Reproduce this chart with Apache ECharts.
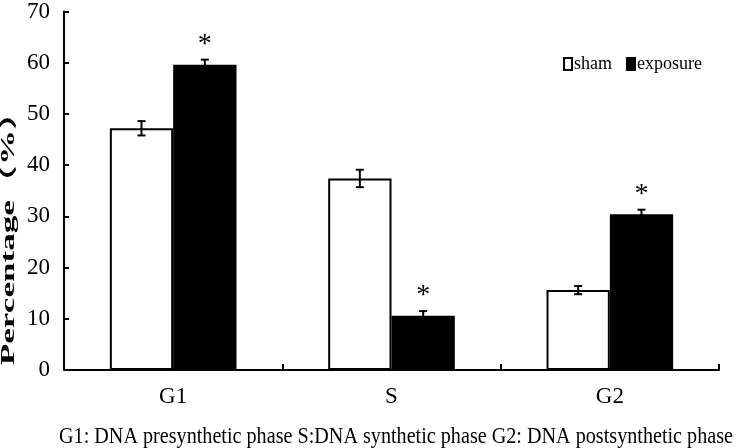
<!DOCTYPE html>
<html>
<head>
<meta charset="utf-8">
<script src="https://cdn.jsdelivr.net/npm/echarts@6/dist/echarts.min.js"></script>
<style>
  html, body { margin: 0; padding: 0; background: #fff; }
  #chart { width: 742px; height: 448px; }
</style>
</head>
<body>
<div id="chart"></div>
<script>
// data
const categories = ['G1', 'S', 'G2']
const sham = [47.2, 37.4, 15.6]
const shamErr = [1.4, 1.7, 0.8]
const exposure = [59.6, 10.6, 30.4]
const exposureErr = [1.0, 0.9, 0.9]
const yTicks = [0, 10, 20, 30, 40, 50, 60, 70]

const caption = 'G1: DNA presynthetic phase S:DNA synthetic phase G2: DNA postsynthetic phase'
const yTitle = 'Percentage（%）'

const serif = '"Liberation Serif", "Noto Sans CJK SC", serif'
const barFrac = 0.29

// stretch a text so it covers a given width
function fitScale(text, font, width) {
  const ctx = document.createElement('canvas').getContext('2d')
  ctx.font = font
  return width / ctx.measureText(text).width
}

function errorSeries(name, values, errs, side) {
  return {
    name: name + ' err',
    type: 'custom',
    z: 5,
    silent: true,
    data: values.map((v, i) => [i, v, errs[i]]),
    encode: { x: 0, y: 1 },
    renderItem(params, api) {
      const i = api.value(0)
      const v = api.value(1)
      const e = api.value(2)
      const bw = api.size([1, 0])[0] * barFrac
      const x = api.coord([i, v])[0] + side * bw / 2
      const top = api.coord([i, v + e])[1]
      const bot = api.coord([i, v - e])[1]
      const style = { stroke: '#000', lineWidth: 2 }
      return {
        type: 'group',
        children: [
          { type: 'line', shape: { x1: x, y1: top, x2: x, y2: bot }, style },
          { type: 'line', shape: { x1: x - 4, y1: top, x2: x + 4, y2: top }, style },
          { type: 'line', shape: { x1: x - 4, y1: bot, x2: x + 4, y2: bot }, style }
        ]
      }
    }
  }
}

const chart = echarts.init(document.getElementById('chart'), null, { renderer: 'canvas' })

const titleFont = 'bold 18px ' + serif
const capFont = '24px ' + serif

chart.setOption({
  animation: false,
  backgroundColor: '#fff',
  textStyle: { fontFamily: serif, color: '#000' },
  grid: { left: 64, right: 23, top: 10, bottom: 78 },
  legend: {
    data: ['sham', 'exposure'],
    left: 558,
    top: 50,
    icon: 'rect',
    itemWidth: 8,
    itemHeight: 12,
    itemGap: 14,
    textStyle: { fontFamily: serif, fontSize: 18, color: '#000', padding: [0, 0, 0, -3] }
  },
  xAxis: {
    type: 'category',
    data: categories,
    axisLine: { lineStyle: { color: '#000', width: 2 } },
    axisTick: { show: true, inside: true, length: 6, lineStyle: { color: '#000', width: 2 } },
    axisLabel: { fontFamily: serif, fontSize: 23, color: '#000', margin: 15 }
  },
  yAxis: {
    type: 'value',
    min: yTicks[0],
    max: yTicks[yTicks.length - 1],
    interval: 10,
    splitLine: { show: false },
    axisLine: { show: true, lineStyle: { color: '#000', width: 2 } },
    axisTick: { show: true, inside: true, length: 5, lineStyle: { color: '#000', width: 2 } },
    axisLabel: { fontFamily: serif, fontSize: 23, color: '#000', margin: 14 }
  },
  graphic: [
    {
      type: 'text',
      x: 9,
      y: 230,
      rotation: Math.PI / 2,
      scaleX: 1.95,
      style: {
        text: yTitle,
        font: titleFont,
        fill: '#000',
        textAlign: 'center',
        textVerticalAlign: 'middle'
      }
    },
    {
      type: 'text',
      x: 396,
      y: 437,
      scaleX: fitScale(caption, capFont, 674),
      style: {
        text: caption,
        font: capFont,
        fill: '#000',
        textAlign: 'center',
        textVerticalAlign: 'middle'
      }
    }
  ],
  series: [
    {
      name: 'sham',
      type: 'bar',
      data: sham,
      barWidth: (barFrac * 100) + '%',
      barGap: '0%',
      itemStyle: { color: '#fff', borderColor: '#000', borderWidth: 2 }
    },
    {
      name: 'exposure',
      type: 'bar',
      data: exposure,
      barWidth: (barFrac * 100) + '%',
      barGap: '0%',
      itemStyle: { color: '#000', borderColor: '#000', borderWidth: 2 },
      label: {
        show: true,
        position: 'top',
        distance: 6,
        formatter: '*',
        fontFamily: serif,
        fontSize: 28,
        color: '#000'
      }
    },
    errorSeries('sham', sham, shamErr, -1),
    errorSeries('exposure', exposure, exposureErr, 1)
  ]
})
</script>
</body>
</html>
